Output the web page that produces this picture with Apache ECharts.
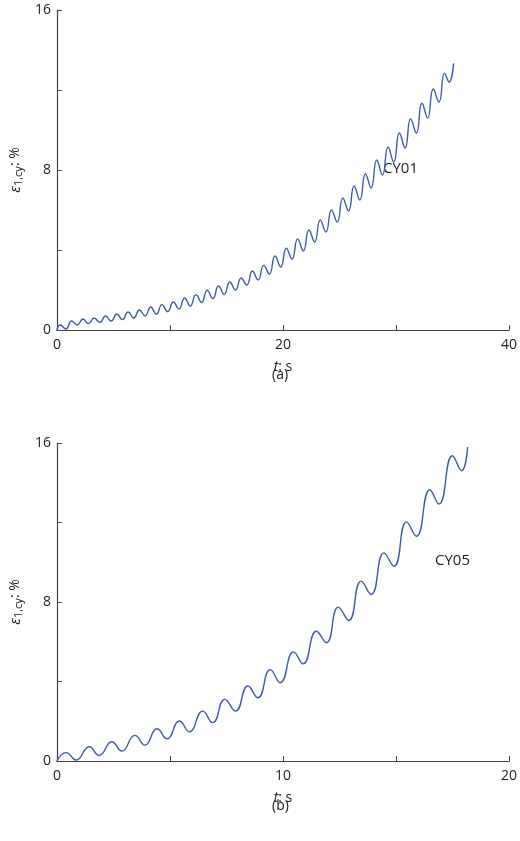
<!DOCTYPE html>
<html><head><meta charset="utf-8">
<script src="https://cdn.jsdelivr.net/npm/echarts@6/dist/echarts.min.js"></script>
<style>html,body{margin:0;padding:0;background:#fff}#c{width:520px;height:841px}</style>
</head><body><div id="c"></div>
<script>
// CY01 (a): times and strain values (peaks and troughs)
const tA = [0,0.3,0.8,1.3,1.8,2.3,2.8,3.3,3.8,4.3,4.8,5.3,5.8,6.3,6.8,7.3,7.8,8.3,8.8,9.3,9.8,10.3,10.8,11.3,11.8,12.3,12.8,13.3,13.8,14.3,14.8,15.3,15.8,16.3,16.8,17.3,17.8,18.3,18.8,19.3,19.8,20.3,20.8,21.3,21.8,22.3,22.8,23.3,23.8,24.3,24.8,25.3,25.8,26.3,26.8,27.3,27.8,28.3,28.8,29.3,29.8,30.3,30.8,31.3,31.8,32.3,32.8,33.3,33.8,34.3,34.7,35.1];
const vA = [0,0.25,0.05,0.45,0.25,0.55,0.32,0.6,0.38,0.7,0.45,0.8,0.52,0.9,0.6,1.0,0.7,1.15,0.8,1.27,0.92,1.4,1.05,1.6,1.2,1.77,1.38,1.99,1.57,2.2,1.78,2.4,2.0,2.6,2.25,2.95,2.5,3.23,2.8,3.7,3.15,4.09,3.55,4.55,3.95,5.0,4.4,5.5,4.9,6.0,5.4,6.6,5.95,7.2,6.5,7.8,7.1,8.5,7.75,9.15,8.4,9.85,9.1,10.55,9.85,11.34,10.6,12.05,11.4,12.83,12.4,13.33];
// CY05 (b)
const tB = [0,0.41,0.85,1.43,1.87,2.43,2.87,3.45,3.89,4.43,4.87,5.42,5.86,6.45,6.89,7.43,7.9,8.45,8.89,9.44,9.88,10.47,10.89,11.48,11.92,12.45,12.91,13.46,13.9,14.47,14.91,15.47,15.9,16.5,16.9,17.5,17.9,18.17];
const vB = [0,0.42,0.05,0.72,0.28,0.97,0.5,1.29,0.8,1.62,1.12,2.01,1.47,2.51,1.93,3.1,2.51,3.77,3.18,4.6,3.94,5.49,4.89,6.53,5.95,7.74,7.07,9.05,8.38,10.47,9.8,12.03,11.31,13.65,12.93,15.36,14.6,15.8];
const yTicks = ['0','8','16'];
const xTicksA = ['0','20','40'];
const xTicksB = ['0','10','20'];

const font = '"Open Sans", sans-serif';
const col = '#3d5da6';
const ax = '#444';
function pairs(t,v){return t.map((x,i)=>[x,v[i]]);}
function yAxis(idx){return {gridIndex:idx,type:'value',min:0,max:16,interval:4,
  axisLine:{show:true,lineStyle:{color:ax,width:1.2}},axisTick:{inside:true,length:5,lineStyle:{color:ax}},
  splitLine:{show:false},
  axisLabel:{color:'#222',fontSize:14,fontFamily:font,margin:6,formatter:v=>yTicks.includes(String(v))?String(v):''},
  name:'{e|ε}{s|1,cy}{n|: %}',nameLocation:'middle',nameGap:28,nameRotate:90,
  nameTextStyle:{rich:{e:{fontSize:15,fontStyle:'italic',fontFamily:font,color:'#222'},s:{fontSize:11,fontFamily:font,color:'#222',verticalAlign:'bottom',padding:[6,0,0,0]},n:{fontSize:14,fontFamily:font,color:'#222'}}}};}
function xAxis(idx,max,iv,labs){return {gridIndex:idx,type:'value',min:0,max:max,interval:iv,
  axisLine:{show:true,onZero:false,lineStyle:{color:ax,width:1.2}},axisTick:{inside:true,length:5,lineStyle:{color:ax}},
  splitLine:{show:false},
  axisLabel:{color:'#222',fontSize:14,fontFamily:font,margin:8,formatter:v=>labs.includes(String(v))?String(v):''},
  name:'{t|t}{n|: s}',nameLocation:'middle',nameGap:30,
  nameTextStyle:{rich:{t:{fontSize:14,fontStyle:'italic',fontFamily:font,color:'#222'},n:{fontSize:14,fontFamily:font,color:'#222'}}}};}
const chart = echarts.init(document.getElementById('c'));
chart.setOption({
  animation:false,
  grid:[{left:54,top:10,width:455,height:320},{left:54,top:443,width:456,height:318}],
  xAxis:[xAxis(0,40,10,xTicksA),xAxis(1,20,5,xTicksB)],
  yAxis:[yAxis(0),yAxis(1)],
  series:[
    {type:'line',xAxisIndex:0,yAxisIndex:0,data:pairs(tA,vA),smooth:0.5,showSymbol:false,lineStyle:{color:col,width:1.4}},
    {type:'line',xAxisIndex:1,yAxisIndex:1,data:pairs(tB,vB),smooth:0.5,showSymbol:false,lineStyle:{color:col,width:1.4}}
  ],
  graphic:[
    {type:'text',left:383,top:161,style:{text:'CY01',fontSize:15,fontFamily:font,fill:'#222'}},
    {type:'text',left:435,top:553,style:{text:'CY05',fontSize:15,fontFamily:font,fill:'#222'}},
    {type:'text',left:272,top:368,style:{text:'(a)',fontSize:14,fontFamily:font,fill:'#222',textAlign:'center'}},
    {type:'text',left:272,top:799,style:{text:'(b)',fontSize:14,fontFamily:font,fill:'#222',textAlign:'center'}}
  ]
});
</script></body></html>
